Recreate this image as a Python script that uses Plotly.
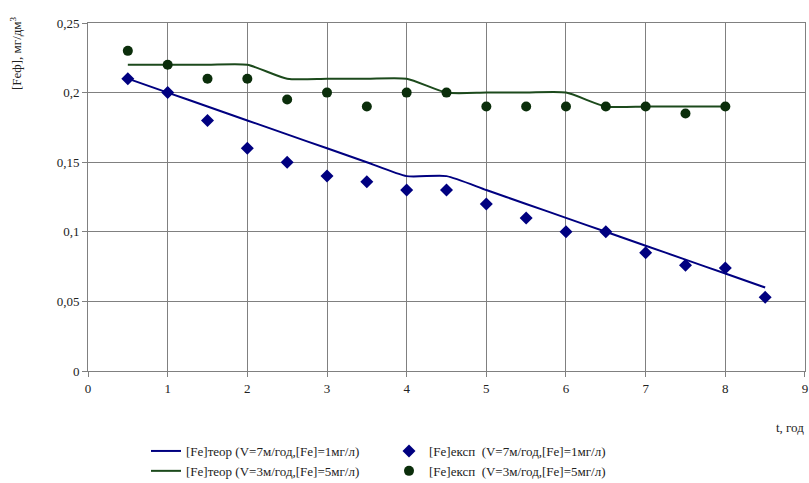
import plotly.graph_objects as go

# ---- data ----
t_theor_blue = [0.5, 1, 1.5, 2, 2.5, 3, 3.5, 4, 4.5, 5, 5.5, 6, 6.5, 7, 7.5, 8, 8.5]
fe_theor_blue = [0.21, 0.20, 0.19, 0.18, 0.17, 0.16, 0.15, 0.14, 0.14, 0.13, 0.12, 0.11, 0.10, 0.09, 0.08, 0.07, 0.06]

t_exp_blue = [0.5, 1, 1.5, 2, 2.5, 3, 3.5, 4, 4.5, 5, 5.5, 6, 6.5, 7, 7.5, 8, 8.5]
fe_exp_blue = [0.21, 0.20, 0.18, 0.16, 0.15, 0.14, 0.136, 0.13, 0.13, 0.12, 0.11, 0.10, 0.10, 0.085, 0.076, 0.074, 0.053]

t_theor_green = [0.5, 1, 1.5, 2, 2.5, 3, 3.5, 4, 4.5, 5, 5.5, 6, 6.5, 7, 7.5, 8]
fe_theor_green = [0.22, 0.22, 0.22, 0.22, 0.21, 0.21, 0.21, 0.21, 0.20, 0.20, 0.20, 0.20, 0.19, 0.19, 0.19, 0.19]

t_exp_green = [0.5, 1, 1.5, 2, 2.5, 3, 3.5, 4, 4.5, 5, 5.5, 6, 6.5, 7, 7.5, 8]
fe_exp_green = [0.23, 0.22, 0.21, 0.21, 0.195, 0.20, 0.19, 0.20, 0.20, 0.19, 0.19, 0.19, 0.19, 0.19, 0.185, 0.19]

x_tick_vals = [0, 1, 2, 3, 4, 5, 6, 7, 8, 9]
y_tick_vals = [0, 0.05, 0.1, 0.15, 0.2, 0.25]
y_tick_text = ["0", "0,05", "0,1", "0,15", "0,2", "0,25"]

names = [
    "[Fe]теор (V=7м/год,[Fe]=1мг/л)",
    "[Fe]експ  (V=7м/год,[Fe]=1мг/л)",
    "[Fe]теор (V=3м/год,[Fe]=5мг/л)",
    "[Fe]експ  (V=3м/год,[Fe]=5мг/л)",
]

BLUE = "#000080"
GREEN_LINE = "#1c4a1c"
GREEN_DOT = "#0b2e0b"
FONT = "Liberation Serif, Times New Roman, serif"
TXT = "#222222"

# body margin is removed by a post script, so the figure fills the window
W, H = 809, 483
L, R, T, B = 88, 4, 23, 112
plot_w = W - L - R
plot_h = H - T - B


def px_x(px):
    return (px - L) / plot_w


def px_y(py):
    return (H - B - py) / plot_h


fig = go.Figure()
fig.add_trace(go.Scatter(x=t_theor_blue, y=fe_theor_blue, mode="lines", name=names[0], legend="legend",
                         line=dict(color=BLUE, width=2, shape="spline", smoothing=0.6)))
fig.add_trace(go.Scatter(x=t_exp_blue, y=fe_exp_blue, mode="markers", name=names[1], legend="legend2",
                         marker=dict(symbol="diamond", color=BLUE, size=10)))
fig.add_trace(go.Scatter(x=t_theor_green, y=fe_theor_green, mode="lines", name=names[2], legend="legend",
                         line=dict(color=GREEN_LINE, width=2, shape="spline", smoothing=0.6)))
fig.add_trace(go.Scatter(x=t_exp_green, y=fe_exp_green, mode="markers", name=names[3], legend="legend2",
                         marker=dict(symbol="circle", color=GREEN_DOT, size=10)))

axis_common = dict(showgrid=True, gridcolor="#808080", gridwidth=1,
                   showline=True, linecolor="#808080", linewidth=1, mirror=True,
                   ticks="outside", ticklen=5, tickcolor="#808080",
                   tickfont=dict(family=FONT, size=13, color=TXT),
                   zeroline=False, fixedrange=True, automargin=False,
                   ticklabeloverflow="allow")

fig.update_xaxes(range=[0, 9.0001], tickvals=x_tick_vals, **axis_common)
fig.update_yaxes(range=[0, 0.25], tickvals=y_tick_vals, ticktext=y_tick_text, **axis_common)

legend_common = dict(orientation="v", xanchor="left", yanchor="top", tracegroupgap=0,
                     font=dict(family=FONT, size=13, color=TXT), itemwidth=30,
                     bgcolor="rgba(0,0,0,0)")

fig.update_layout(
    width=W, height=H,
    margin=dict(l=L, r=R, t=T, b=B, autoexpand=False),
    paper_bgcolor="white", plot_bgcolor="white",
    font=dict(family=FONT, size=13, color=TXT),
    showlegend=True,
    legend=dict(x=px_x(146), y=px_y(436), **legend_common),
    legend2=dict(x=px_x(389), y=px_y(436), **legend_common),
    annotations=[
        dict(text="[Feф], мг/дм<sup>3</sup>", textangle=-90,
             x=px_x(16), y=px_y(53), xref="paper", yref="paper",
             xanchor="center", yanchor="middle",
             showarrow=False, font=dict(family=FONT, size=13, color=TXT)),
        dict(text="t, год", x=px_x(806), y=px_y(427), xref="paper", yref="paper",
             xanchor="right", yanchor="middle",
             showarrow=False, font=dict(family=FONT, size=13, color=TXT)),
    ],
)

fig.write_html(
    "out.html",
    config={"displayModeBar": False},
    post_script="document.body.style.margin='0';document.body.style.overflow='hidden';",
)
